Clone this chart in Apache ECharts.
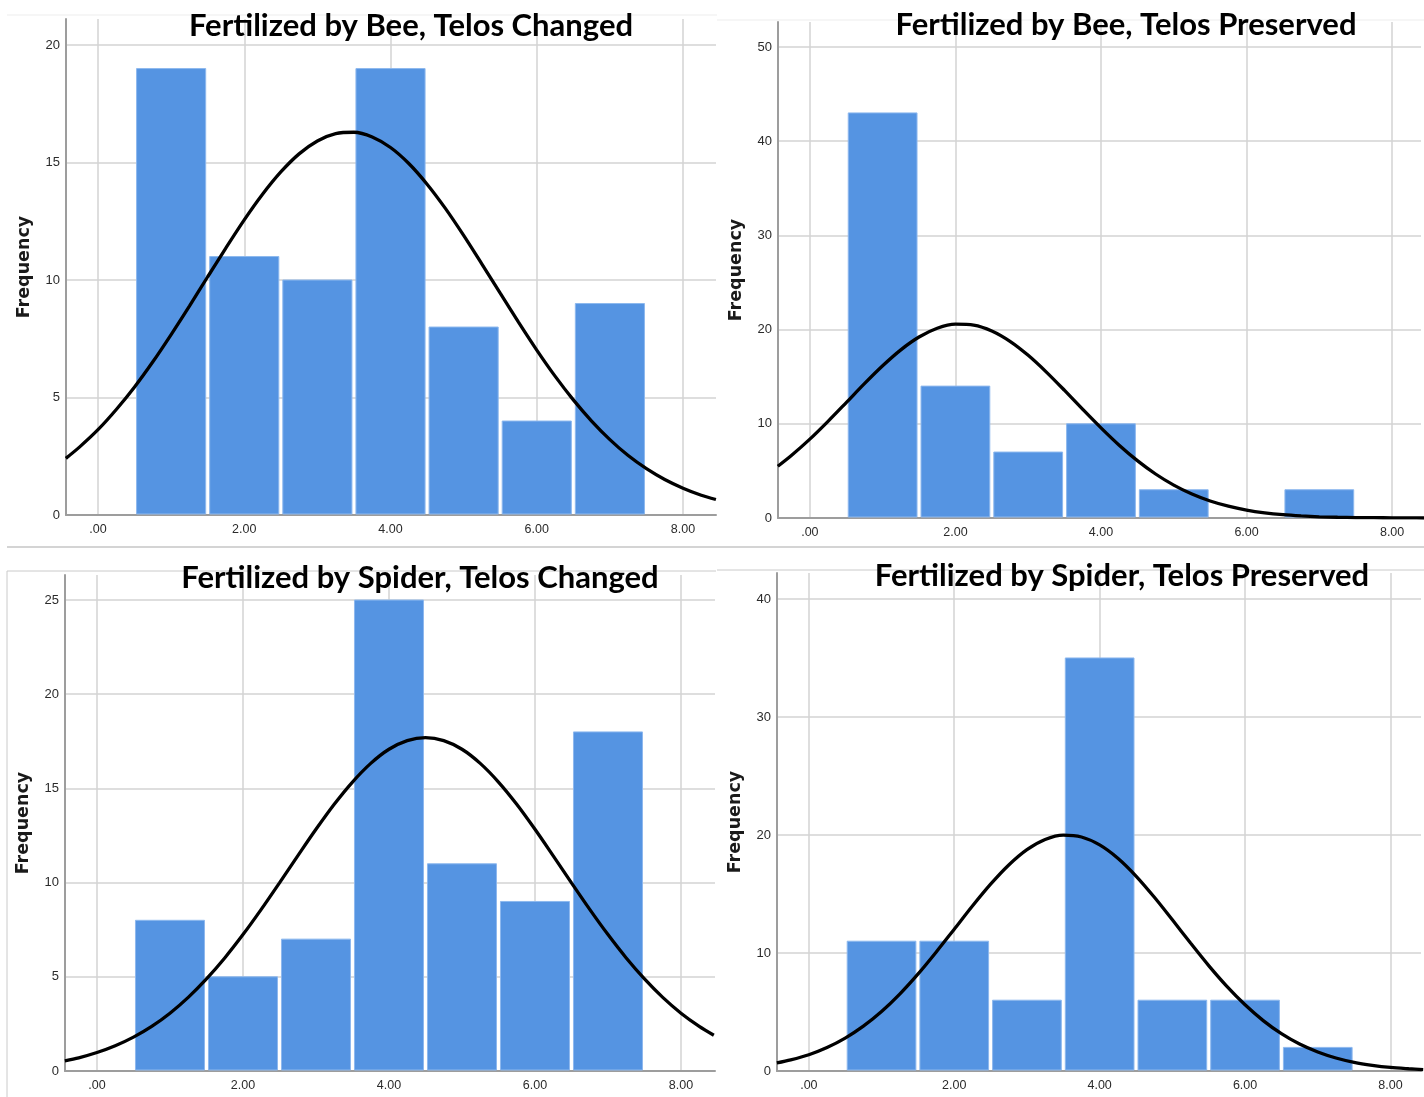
<!DOCTYPE html>
<html>
<head>
<meta charset="utf-8">
<script src="https://cdn.jsdelivr.net/npm/echarts@6/dist/echarts.min.js"></script>
<style>
html,body{margin:0;padding:0;background:#fff;}
#chart{width:1424px;height:1097px;}
</style>
</head>
<body>
<div id="chart"></div>
<script>
// ---------- data ----------
const titles = [
  'Fertilized by Bee, Telos Changed',
  'Fertilized by Bee, Telos Preserved',
  'Fertilized by Spider, Telos Changed',
  'Fertilized by Spider, Telos Preserved'
];
const binCenters = [1, 2, 3, 4, 5, 6, 7];
const beeChanged      = [19, 11, 10, 19, 8, 4, 9];
const beePreserved    = [43, 14, 7, 10, 3, 0, 3];
const spiderChanged   = [8, 5, 7, 25, 11, 9, 18];
const spiderPreserved = [11, 11, 6, 35, 6, 6, 2];

// normal curves, heights every 0.25
const curveX = [-0.44, -0.25, 0, 0.25, 0.5, 0.75, 1, 1.25, 1.5, 1.75, 2, 2.25, 2.5, 2.75, 3, 3.25, 3.5, 3.75,
                4, 4.25, 4.5, 4.75, 5, 5.25, 5.5, 5.75, 6, 6.25, 6.5, 6.75, 7, 7.25, 7.5, 7.75, 8, 8.25, 8.45];
const beeChangedCurve = [2.41, 2.90, 3.63, 4.49, 5.45, 6.52, 7.68, 8.89, 10.14, 11.37, 12.56, 13.65, 14.60, 15.37,
  15.92, 16.23, 16.29, 16.09, 15.64, 14.96, 14.08, 13.05, 11.90, 10.68, 9.44, 8.21, 7.02, 5.91, 4.90, 4.00, 3.21,
  2.53, 1.97, 1.51, 1.14, 0.84, 0.66];
const beePreservedCurve = [5.49, 6.66, 8.37, 10.26, 12.25, 14.26, 16.16, 17.85, 19.21, 20.14, 20.57, 20.48, 19.86,
  18.76, 17.27, 15.49, 13.54, 11.53, 9.57, 7.73, 6.09, 4.67, 3.49, 2.54, 1.80, 1.25, 0.84, 0.55, 0.35, 0.22, 0.13,
  0.08, 0.05, 0.03, 0.02, 0.01, 0.0];
const spiderChangedCurve = [0.54, 0.70, 0.98, 1.34, 1.80, 2.37, 3.07, 3.91, 4.89, 6.00, 7.24, 8.58, 9.99, 11.42,
  12.83, 14.16, 15.34, 16.33, 17.08, 17.54, 17.70, 17.54, 17.08, 16.33, 15.34, 14.16, 12.83, 11.42, 9.99, 8.58,
  7.24, 6.00, 4.89, 3.91, 3.07, 2.37, 1.90];
const spiderPreservedCurve = [0.68, 0.94, 1.38, 1.99, 2.79, 3.80, 5.04, 6.52, 8.21, 10.07, 12.02, 13.98, 15.83,
  17.46, 18.76, 19.62, 19.99, 19.83, 19.16, 18.03, 16.52, 14.74, 12.81, 10.84, 8.93, 7.17, 5.61, 4.27, 3.16, 2.28,
  1.61, 1.10, 0.73, 0.48, 0.30, 0.19, 0.12];

const xTickValues = [0, 2, 4, 6, 8];
const yIntervals = [5, 10, 5, 10];

// ---------- layout ----------
const panels = [
  {grid:{left:66,  top:19,  width:650, height:496}, xMin:-0.4376, xMax:8.451, yMax:21.11, title:{x:406, y:5}},
  {grid:{left:778, top:22,  width:646, height:496}, xMin:-0.4376, xMax:8.397, yMax:52.65, title:{x:1121, y:4}},
  {grid:{left:65,  top:575, width:650, height:496}, xMin:-0.438,  xMax:8.466, yMax:26.33, title:{x:415, y:557}},
  {grid:{left:777, top:573, width:647, height:498}, xMin:-0.438,  xMax:8.42,  yMax:42.2,  title:{x:1117, y:555}}
];
const barSets = [beeChanged, beePreserved, spiderChanged, spiderPreserved];
const curveSets = [beeChangedCurve, beePreservedCurve, spiderChangedCurve, spiderPreservedCurve];

const AXIS_COLOR = '#9d9d9d';
const GRID_COLOR = '#d3d3d3';
const BAR_COLOR = '#5594e2';

function fmtX(v) {
  for (const t of xTickValues) {
    if (Math.abs(v - t) < 1e-6) return t === 0 ? '.00' : t.toFixed(2);
  }
  return '';
}

const option = {
  backgroundColor: '#fff',
  animation: false,
  title: panels.map((p, i) => ({
    text: titles[i],
    left: p.title.x,
    top: p.title.y,
    textAlign: 'center',
    textStyle: {fontFamily: 'Lato', fontWeight: 'bold', fontSize: 31, color: '#000'}
  })),
  grid: panels.map(p => Object.assign({containLabel: false}, p.grid)),
  xAxis: panels.map((p, i) => ({
    type: 'value', gridIndex: i, min: p.xMin, max: p.xMax,
    minInterval: 2, maxInterval: 2, splitNumber: 4,
    axisLine: {show: true, onZero: false, lineStyle: {color: AXIS_COLOR, width: 2}},
    axisTick: {show: false},
    axisLabel: {formatter: fmtX, color: '#2b2b2b', fontSize: 12.5, margin: 8, fontFamily: 'Liberation Sans'},
    splitLine: {show: true, showMinLine: false, showMaxLine: false, lineStyle: {color: GRID_COLOR, width: 1.5}}
  })),
  yAxis: panels.map((p, i) => ({
    type: 'value', gridIndex: i, min: 0, max: p.yMax, interval: yIntervals[i],
    name: 'Frequency', nameLocation: 'middle', nameGap: 33,
    nameTextStyle: {fontFamily: 'DejaVu Sans', fontWeight: 'bold', fontSize: 17.5, color: '#1a1a1a'},
    axisLine: {show: true, onZero: false, lineStyle: {color: AXIS_COLOR, width: 2}},
    axisTick: {show: false},
    axisLabel: {
      color: '#2b2b2b', fontSize: 13, margin: 6, fontFamily: 'Liberation Sans',
      formatter: v => (Math.abs(v / yIntervals[i] - Math.round(v / yIntervals[i])) < 1e-6 ? String(Math.round(v)) : '')
    },
    splitLine: {show: true, showMinLine: false, showMaxLine: false, lineStyle: {color: GRID_COLOR, width: 1.5}}
  })),
  graphic: [
    {type: 'line', shape: {x1: 7, y1: 15, x2: 717, y2: 15}, style: {stroke: '#ededed', lineWidth: 1}, silent: true, z: -1},
    {type: 'line', shape: {x1: 717, y1: 20, x2: 1424, y2: 20}, style: {stroke: '#ededed', lineWidth: 1}, silent: true, z: -1},
    {type: 'line', shape: {x1: 7, y1: 547, x2: 1424, y2: 547}, style: {stroke: '#c6c6c6', lineWidth: 1.5}, silent: true, z: -1},
    {type: 'line', shape: {x1: 7, y1: 571, x2: 716, y2: 571}, style: {stroke: '#cacaca', lineWidth: 1}, silent: true, z: -1},
    {type: 'line', shape: {x1: 7, y1: 571, x2: 7, y2: 1097}, style: {stroke: '#cacaca', lineWidth: 1}, silent: true, z: -1},
    {type: 'line', shape: {x1: 717, y1: 570, x2: 1424, y2: 570}, style: {stroke: '#cacaca', lineWidth: 1}, silent: true, z: -1}
  ],
  series: []
};

panels.forEach((p, i) => {
  option.series.push({
    type: 'custom',
    xAxisIndex: i, yAxisIndex: i,
    data: binCenters.map((c, k) => [c, barSets[i][k]]),
    renderItem: function (params, api) {
      const x = api.value(0), y = api.value(1);
      if (!(y > 0)) return null;
      const tl = api.coord([x - 0.5, y]);
      const br = api.coord([x + 0.5, 0]);
      return {
        type: 'rect',
        shape: {x: tl[0] + 2, y: tl[1], width: br[0] - tl[0] - 4, height: br[1] - tl[1] - 1},
        style: {fill: BAR_COLOR, stroke: '#8db8ee', lineWidth: 1}
      };
    },
    z: 2
  });
  option.series.push({
    type: 'line',
    xAxisIndex: i, yAxisIndex: i,
    data: curveX.map((x, k) => [x, curveSets[i][k]]),
    smooth: 0.3,
    showSymbol: false,
    clip: true,
    lineStyle: {color: '#000', width: 3.3},
    z: 3
  });
});

const chart = echarts.init(document.getElementById('chart'), null, {renderer: 'canvas'});
chart.setOption(option);
</script>
</body>
</html>
